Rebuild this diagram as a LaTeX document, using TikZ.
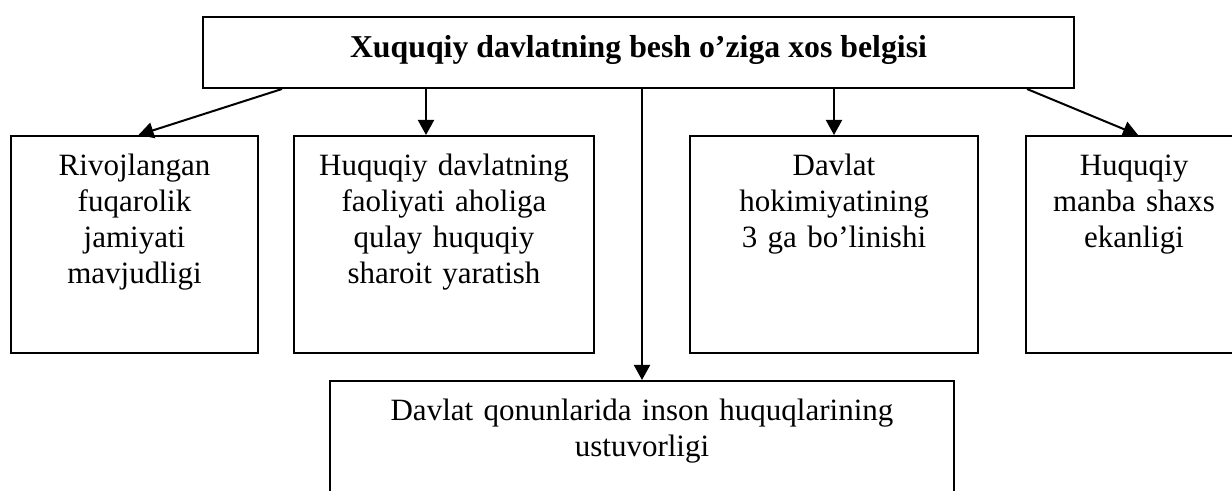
\documentclass[tikz,border=0pt]{standalone}
\usepackage{fontspec}
\setmainfont{Liberation Serif}
\usetikzlibrary{arrows.meta}
\tikzset{
  SignBox/.style={draw, line width=1pt, inner sep=0pt, anchor=north west,
    align=center, text height=20pt, text depth=88.5pt,
    font=\fontsize{15.5}{18}\selectfont},
  SignArrow/.style={line width=1pt, -{Triangle[length=7.5pt,width=8pt]}}
}

\begin{document}
\begin{tikzpicture}[x=0.5pt,y=-0.5pt]
  \useasboundingbox (0,0) rectangle (1232,491);
  % title
  \node[SignBox, minimum width=435.5pt, text height=20.5pt, text depth=15pt,
    font=\fontsize{15.9}{18}\selectfont\bfseries] (title) at (202,16)
    {Xuquqiy davlatning besh o’ziga xos belgisi};
  % signs
  \node[SignBox, text width=123.5pt] (rivoj) at (10,135)
    {Rivojlangan\\fuqarolik\\jamiyati\\mavjudligi};
  \node[SignBox, text width=150pt] (faol) at (293,135)
    {Huquqiy davlatning\\faoliyati aholiga\\qulay huquqiy\\sharoit yaratish};
  \node[SignBox, text width=144pt] (hokim) at (689,135)
    {Davlat\\hokimiyatining\\3 ga bo’linishi};
  \node[SignBox, text width=108pt] (manba) at (1025,135)
    {Huquqiy\\manba shaxs\\ekanligi};
  \node[SignBox, text width=312pt, text depth=60pt] (ustuvor) at (329,380)
    {Davlat qonunlarida inson huquqlarining\\ustuvorligi};
  % arrows
  \draw[SignArrow] ([xshift=40pt]title.south west) -- ([xshift=2pt]rivoj.north);
  \draw[SignArrow] ([xshift=-9pt]faol.north |- title.south) -- ([xshift=-9pt]faol.north);
  \draw[SignArrow] (ustuvor.north |- title.south) -- (ustuvor.north);
  \draw[SignArrow] (hokim.north |- title.south) -- (hokim.north);
  \draw[SignArrow] ([xshift=-24pt]title.south east) -- ([xshift=2pt]manba.north);
\end{tikzpicture}
\end{document}
